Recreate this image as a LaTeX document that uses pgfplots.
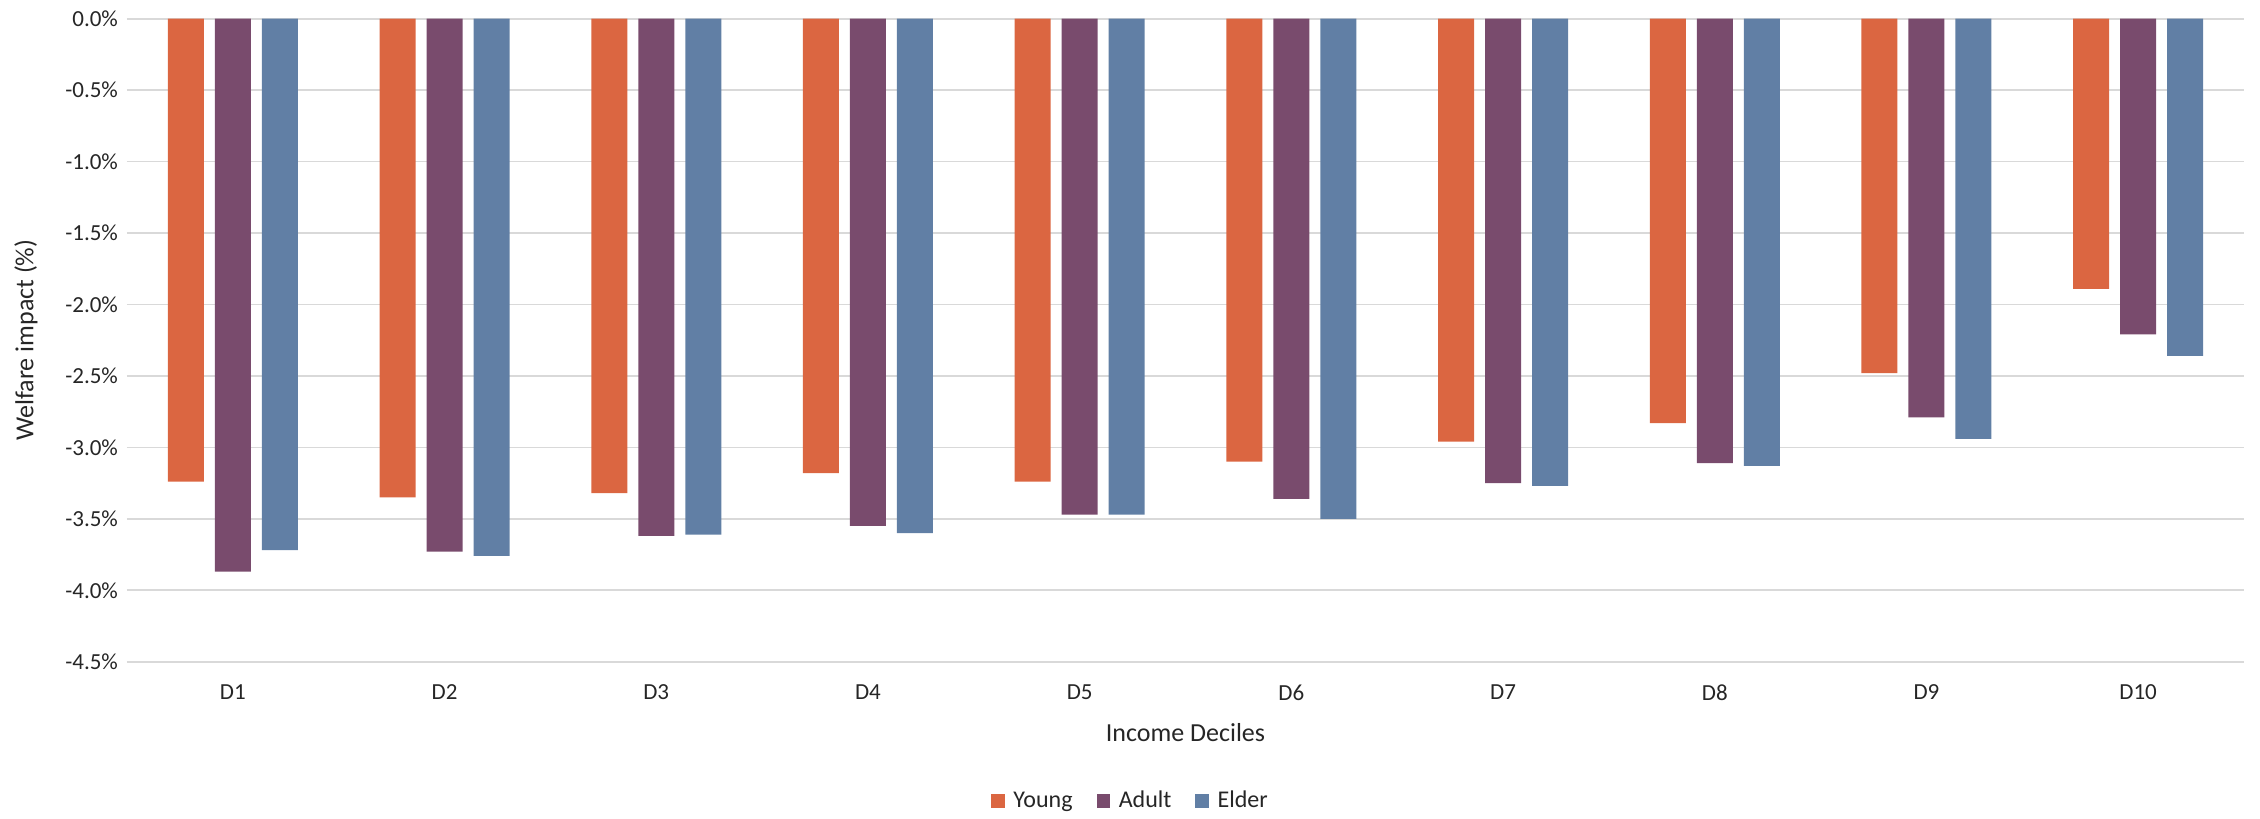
\documentclass[border=0pt]{standalone}
\usepackage{fontspec}
\setmainfont{Carlito}
\usepackage{pgfplots}
\usepackage{pgfplotstable}
\pgfplotsset{compat=1.18}
\definecolor{cyoung}{RGB}{219,102,65}
\definecolor{cadult}{RGB}{121,75,109}
\definecolor{celder}{RGB}{97,127,165}
\definecolor{cgrid}{RGB}{217,217,217}
\pgfplotstableread{
x young adult elder
1 -3.24 -3.87 -3.72
2 -3.35 -3.73 -3.76
3 -3.32 -3.62 -3.61
4 -3.18 -3.55 -3.60
5 -3.24 -3.47 -3.47
6 -3.10 -3.36 -3.50
7 -2.96 -3.25 -3.27
8 -2.83 -3.11 -3.13
9 -2.48 -2.79 -2.94
10 -1.89 -2.21 -2.36
}\datatable
\begin{document}
\begin{tikzpicture}
\begin{axis}[
  scale only axis,
  width=1058.5pt, height=321.5pt,
  xmin=0.5, xmax=10.5,
  ymin=-4.5, ymax=0,
  axis line style={draw=none},
  ybar=5.5pt, bar width=18pt,
  xtick={1,...,10},
  xticklabels={D1,D2,D3,D4,D5,D6,D7,D8,D9,D10},
  ytick={-4.5,-4,-3.5,-3,-2.5,-2,-1.5,-1,-0.5,0},
  yticklabels={-4.5\%,-4.0\%,-3.5\%,-3.0\%,-2.5\%,-2.0\%,-1.5\%,-1.0\%,-0.5\%,0.0\%},
  major tick length=0pt,
  ymajorgrids,
  grid style={cgrid, line width=0.85pt},
  tick label style={font=\fontsize{11.5}{13}\selectfont, text=black!85},
  xticklabel style={yshift=-8pt},
  yticklabel style={xshift=-1pt},
  xlabel={Income Deciles},
  ylabel={Welfare impact (\%)},
  label style={font=\fontsize{13}{15}\selectfont, text=black!85},
  xlabel style={at={(axis description cs:0.5,0)}, anchor=center, yshift=-35.2pt},
  ylabel style={at={(axis description cs:-0.0477,0.5)}, anchor=center},
  legend style={at={(axis description cs:0.4745,-0.2168)}, anchor=center,
    draw=none, font=\fontsize{12}{14}\selectfont, text=black!85,
    column sep=2.3pt, /tikz/every even column/.append style={column sep=10pt}},
  legend columns=3,
  legend image code/.code={\fill[#1] (0pt,-3.4pt) rectangle (6.8pt,3.4pt);},
]
\addplot[fill=cyoung, draw=none] table[x=x, y=young] {\datatable};
\addplot[fill=cadult, draw=none] table[x=x, y=adult] {\datatable};
\addplot[fill=celder, draw=none] table[x=x, y=elder] {\datatable};
\legend{Young, Adult, Elder}
\end{axis}
\path[use as bounding box] ([shift={(-63.5pt,-77.2pt)}]current axis.south west) rectangle ([shift={(8pt,9.35pt)}]current axis.north east);
\end{tikzpicture}
\end{document}
